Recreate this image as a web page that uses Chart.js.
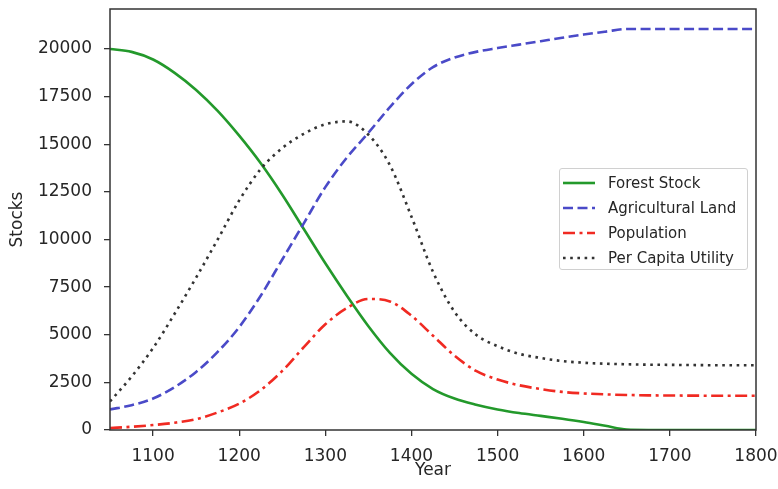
<!DOCTYPE html>
<html>
<head>
<meta charset="utf-8">
<script src="https://cdn.jsdelivr.net/npm/chart.js@4/dist/chart.umd.min.js"></script>
<style>
  body { margin: 0; background: #fff; }
  #wrap { position: relative; width: 778px; height: 489px; }
  #legend {
    position: absolute; left: 559px; top: 168px; width: 189px; height: 102px;
    border: 1px solid #d0d0d0; border-radius: 3px; background: rgba(255,255,255,0.85);
    font-family: "DejaVu Sans", sans-serif; font-size: 15px; color: #262626;
    box-sizing: border-box; padding-top: 1px;
  }
  #legend .row { height: 25px; display: flex; align-items: center; }
  #legend svg { margin-left: 2px; margin-right: 12px; }
</style>
</head>
<body>
<div id="wrap">
  <canvas id="chart"></canvas>
  <div id="legend"></div>
</div>
<script>
// data, every 25 years
const years = [1050, 1075, 1100, 1125, 1150, 1175, 1200, 1225, 1250, 1275, 1300, 1325, 1350, 1375, 1400,
  1425, 1450, 1475, 1500, 1525, 1550, 1575, 1600, 1625, 1650, 1675, 1700, 1725, 1750, 1775, 1800];

const forestStock = [20000, 19850, 19450, 18750, 17850, 16750, 15450, 14000, 12350, 10550, 8750, 7050, 5450, 4050, 2950,
  2150, 1650, 1330, 1080, 890, 740, 590, 420, 220, 20, 0, 0, 0, 0, 0, 0];

const agriLand = [1080, 1300, 1650, 2250, 3050, 4100, 5400, 7050, 8950, 10850, 12750, 14300, 15600, 16950, 18150,
  19050, 19550, 19850, 20050, 20230, 20410, 20590, 20760, 20910, 21050, 21050, 21050, 21050, 21050, 21050, 21050];

const population = [100, 170, 260, 380, 570, 920, 1380, 2100, 3100, 4350, 5550, 6400, 6880, 6750, 6000,
  4950, 3900, 3100, 2650, 2350, 2150, 2000, 1920, 1870, 1840, 1820, 1810, 1805, 1800, 1800, 1800];

const perCapita = [1500, 2800, 4300, 6100, 8000, 10000, 12050, 13700, 14800, 15550, 16050, 16200, 15500, 13900, 11200,
  8300, 6200, 5000, 4400, 4000, 3780, 3620, 3530, 3480, 3450, 3430, 3420, 3410, 3400, 3400, 3400];

const xTicks = [1100, 1200, 1300, 1400, 1500, 1600, 1700, 1800];
const yTicks = [0, 2500, 5000, 7500, 10000, 12500, 15000, 17500, 20000];

const seriesNames = ['Forest Stock', 'Agricultural Land', 'Population', 'Per Capita Utility'];
const seriesValues = [forestStock, agriLand, population, perCapita];
const seriesColors = ['#23992b', '#4a4ac8', '#f02a22', '#333333'];
const seriesDash = [[], [10, 4.5], [12, 4.5, 3, 4.5], [2.6, 4.6]];
const lineWidth = 2.6;

function toPoints(vals) {
  return years.map((y, i) => ({ x: y, y: vals[i] }));
}

const datasets = seriesNames.map((name, i) => ({
  label: name,
  data: toPoints(seriesValues[i]),
  borderColor: seriesColors[i],
  borderWidth: lineWidth,
  borderDash: seriesDash[i],
  pointRadius: 0,
  fill: false,
  cubicInterpolationMode: 'monotone',
  order: 3 - i
}));

// full box round the plot, like the reference
const frame = {
  id: 'frame',
  afterDraw(chart) {
    const a = chart.chartArea;
    const c = chart.ctx;
    c.save();
    c.strokeStyle = '#333';
    c.lineWidth = 1.5;
    c.setLineDash([]);
    c.strokeRect(a.left, a.top, a.right - a.left, a.bottom - a.top);
    c.restore();
  }
};

const tickFont = { family: 'DejaVu Sans', size: 17 };

const config = {
  type: 'line',
  data: { datasets: datasets },
  options: {
    responsive: true,
    maintainAspectRatio: false,
    animation: false,
    layout: { padding: { left: 0, right: 22, top: 9, bottom: 0 } },
    plugins: { legend: { display: false }, tooltip: { enabled: false } },
    scales: {
      x: {
        type: 'linear',
        min: 1050,
        max: 1800,
        afterBuildTicks: s => { s.ticks = xTicks.map(v => ({ value: v })); },
        afterFit: s => { s.height = 59; s.paddingLeft = 0; s.paddingRight = 0; },
        grid: { drawOnChartArea: false, tickLength: 6, color: '#333', lineWidth: 1.3 },
        border: { display: false },
        ticks: { font: tickFont, color: '#262626', padding: 10, maxRotation: 0, callback: v => String(v) },
        title: { display: true, text: 'Year', font: tickFont, color: '#262626', padding: { top: 0, bottom: 8 } }
      },
      y: {
        type: 'linear',
        min: 0,
        max: 22100,
        afterBuildTicks: s => { s.ticks = yTicks.map(v => ({ value: v })); },
        afterFit: s => { s.width = 110; s.paddingTop = 0; s.paddingBottom = 0; },
        grid: { drawOnChartArea: false, tickLength: 6, color: '#333', lineWidth: 1.3 },
        border: { display: false },
        ticks: { font: tickFont, color: '#262626', padding: 12, callback: v => String(v) },
        title: { display: true, text: 'Stocks', font: tickFont, color: '#262626', padding: { top: 7, bottom: 0 } }
      }
    }
  },
  plugins: [frame]
};

new Chart(document.getElementById('chart').getContext('2d'), config);

// legend box inside the plot
const legend = document.getElementById('legend');
seriesNames.forEach((name, i) => {
  const row = document.createElement('div');
  row.className = 'row';
  const dash = seriesDash[i].length ? seriesDash[i].join(' ') : 'none';
  row.innerHTML = '<svg width="34" height="10"><line x1="1" y1="5" x2="33" y2="5" stroke="' + seriesColors[i] +
    '" stroke-width="' + lineWidth + '" stroke-dasharray="' + dash + '"/></svg><span>' + name + '</span>';
  legend.appendChild(row);
});
</script>
</body>
</html>
